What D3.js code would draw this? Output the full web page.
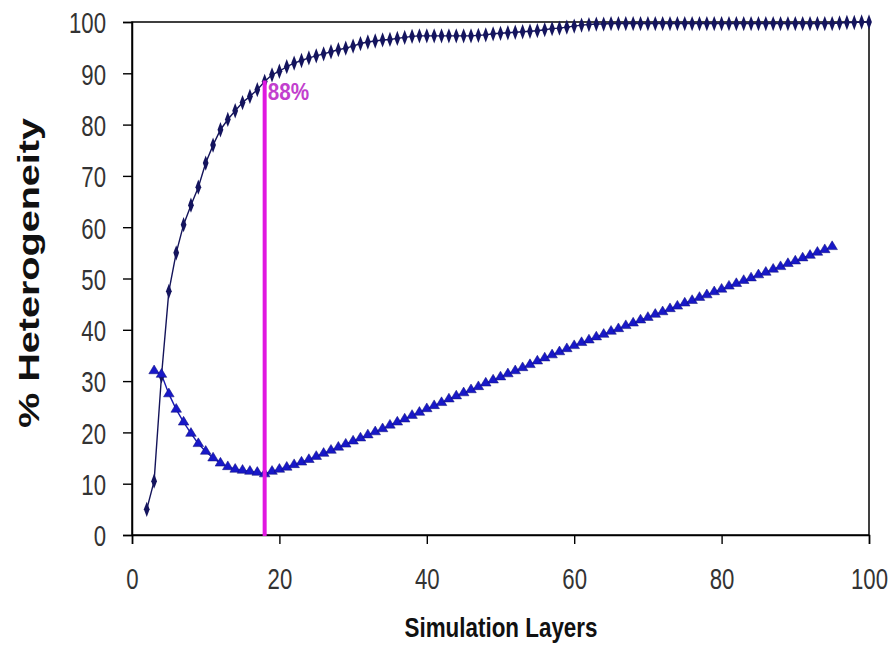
<!DOCTYPE html>
<html><head><meta charset="utf-8">
<script src="https://cdn.jsdelivr.net/npm/d3@7"></script>
<style>body{margin:0;background:#fff}</style>
</head><body>
<svg id="c" width="893" height="652"></svg>
<script>
const xTicks = [0, 20, 40, 60, 80, 100];
const yTicks = [0, 10, 20, 30, 40, 50, 60, 70, 80, 90, 100];
const diamondStart = 2;
const diamondValues = [5, 10.5, 31, 47.5, 55, 60.5, 64.3, 67.8, 72.5, 76, 79, 81, 82.7, 84.3, 85.5, 86.8, 88.4, 89.7, 90.4, 91.3,
  92, 92.5, 93, 93.4, 93.8, 94.2, 94.6, 94.9, 95.3, 95.8, 96.1, 96.3, 96.5, 96.6, 96.8, 97, 97.2, 97.3, 97.3, 97.3,
  97.3, 97.3, 97.3, 97.3, 97.3, 97.4, 97.5, 97.7, 97.8, 97.9, 98, 98.1, 98.2, 98.3, 98.5, 98.7, 98.8, 99, 99.2, 99.4,
  99.5, 99.6, 99.6, 99.7, 99.7, 99.7, 99.7, 99.7, 99.7, 99.7, 99.7, 99.7, 99.7, 99.7, 99.7, 99.7, 99.7, 99.7, 99.7, 99.7,
  99.7, 99.7, 99.7, 99.7, 99.7, 99.7, 99.7, 99.7, 99.7, 99.7, 99.7, 99.7, 99.7, 99.7, 99.8, 99.9, 99.9, 100, 100];
const triangleStart = 3;
const triangleValues = [32, 31.3, 27.5, 24.5, 22, 19.8, 17.8, 16.3, 15, 14, 13.3, 12.8, 12.6, 12.4, 12.2, 11.9, 12.4,
  12.8, 13.2, 13.7, 14.2, 14.7, 15.3, 15.9, 16.5, 17.1, 17.7, 18.3, 18.9, 19.5, 20.1, 20.7, 21.4, 22, 22.6, 23.3, 23.9,
  24.6, 25.2, 25.8, 26.5, 27.1, 27.7, 28.3, 28.9, 29.6, 30.2, 30.8, 31.4, 32, 32.6, 33.2, 33.9, 34.5, 35.1, 35.7, 36.3,
  36.9, 37.5, 38, 38.6, 39.1, 39.7, 40.2, 40.8, 41.3, 41.9, 42.4, 43, 43.5, 44.1, 44.6, 45.2, 45.7, 46.3, 46.8, 47.4,
  47.9, 48.5, 49, 49.6, 50.1, 50.7, 51.2, 51.8, 52.3, 52.9, 53.4, 54, 54.5, 55.1, 55.6, 56.2];
const markerX = 18;
const markerTop = 88.6;
const markerLabel = "88%";
const xTitle = "Simulation Layers";
const yTitle = "% Heterogeneity";

const svg = d3.select("#c");
const L = 132, R = 869, T = 22, B = 535;
const x = d3.scaleLinear().domain([0, 100]).range([L, R]);
const y = d3.scaleLinear().domain([0, 100]).range([B, T]);
const font = "'Liberation Sans',Arial,sans-serif";

// frame
svg.append("rect").attr("x", L).attr("y", T).attr("width", R - L).attr("height", B - T)
  .attr("fill", "none").attr("stroke", "#000").attr("stroke-width", 1.5);

const gx = svg.append("g").attr("transform", `translate(0,${B})`)
  .call(d3.axisBottom(x).tickValues(xTicks).tickSize(9).tickPadding(24));
const gy = svg.append("g").attr("transform", `translate(${L},0)`)
  .call(d3.axisLeft(y).tickValues(yTicks).tickSize(9).tickPadding(17));
[gx, gy].forEach(g => {
  g.select(".domain").attr("stroke", "#000").attr("stroke-width", 1.5);
  g.selectAll(".tick line").attr("stroke", "#000").attr("stroke-width", 1.4);
  g.selectAll(".tick text").attr("font-family", font).attr("font-size", 30).attr("fill", "#333");
});
gx.selectAll(".tick text").attr("transform", "scale(0.74,1)");
gy.selectAll(".tick text").each(function () {
  const t = d3.select(this);
  const xx = +t.attr("x");
  t.attr("x", 0).attr("dy", "0.36em").attr("transform", `translate(${xx},0) scale(0.74,1)`);
});

const dData = diamondValues.map((v, i) => [diamondStart + i, v]);
const tData = triangleValues.map((v, i) => [triangleStart + i, v]);
const line = d3.line().x(d => x(d[0])).y(d => y(d[1]));

svg.append("path").datum(dData).attr("d", line).attr("fill", "none").attr("stroke", "#14145a").attr("stroke-width", 1.4);
svg.append("path").datum(tData).attr("d", line).attr("fill", "none").attr("stroke", "#1a1ab0").attr("stroke-width", 1.4);

const diamond = d3.symbol().type(d3.symbolDiamond).size(40);
svg.append("g").selectAll("path").data(dData).join("path")
  .attr("d", diamond).attr("transform", d => `translate(${x(d[0])},${y(d[1])}) scale(0.85,1.3)`)
  .attr("fill", "#14145e");
const tri = d3.symbol().type(d3.symbolTriangle).size(44);
svg.append("g").selectAll("path").data(tData).join("path")
  .attr("d", tri).attr("transform", d => `translate(${x(d[0])},${y(d[1])}) scale(1.05,1)`)
  .attr("fill", "#1818c8").attr("stroke", "#10107a").attr("stroke-width", 0.5);

// marker line
svg.append("line").attr("x1", x(markerX)).attr("x2", x(markerX)).attr("y1", B + 1).attr("y2", y(markerTop))
  .attr("stroke", "#e018e0").attr("stroke-width", 4);
svg.append("text").attr("transform", `translate(${x(markerX) + 3},${y(markerTop) + 20}) scale(0.9,1)`)
  .attr("font-family", font).attr("font-weight", "bold").attr("font-size", 23).attr("fill", "#c23fce")
  .text(markerLabel);

svg.append("text").attr("transform", `translate(501,637) scale(0.83,1)`).attr("text-anchor", "middle")
  .attr("font-family", font).attr("font-weight", "bold").attr("font-size", 27).attr("fill", "#111")
  .text(xTitle);
svg.append("text").attr("transform", `translate(39,273) rotate(-90) scale(1.32,1)`).attr("text-anchor", "middle")
  .attr("font-family", font).attr("font-weight", "bold").attr("font-size", 30).attr("fill", "#111")
  .text(yTitle);
</script>
</body></html>
